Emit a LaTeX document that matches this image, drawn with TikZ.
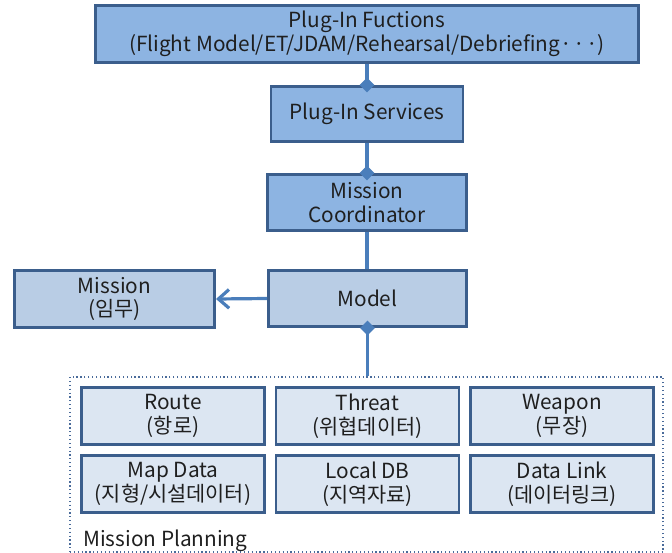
\documentclass[tikz,border=0pt]{standalone}
\usepackage{fontspec}
\setmainfont{Noto Sans CJK KR}
\usetikzlibrary{arrows.meta}
\definecolor{fillA}{HTML}{8DB4E2}
\definecolor{fillB}{HTML}{B9CDE5}
\definecolor{fillC}{HTML}{DCE6F2}
\definecolor{edgecol}{HTML}{3B5E8C}
\definecolor{conn}{HTML}{4A7EBB}
\definecolor{dotcol}{HTML}{4A6B9A}
\definecolor{txt}{HTML}{1F1F1F}
\tikzset{
  box/.style={draw=edgecol, line width=2.2pt, text=txt, align=center,
    font=\fontsize{15.6}{17.8}\selectfont, inner sep=0pt},
  boxA/.style={box, fill=fillA},
  boxB/.style={box, fill=fillB},
  boxC/.style={box, fill=fillC, minimum width=137.25pt, minimum height=42.75pt},
  link/.style={draw=conn, line width=2.4pt},
  dia/.style={-{Diamond[length=11pt,width=11pt]}, shorten >=-5.5pt},
}
\begin{document}
\begin{tikzpicture}[x=0.75pt,y=-0.75pt]
\useasboundingbox (0,0) rectangle (672,553);
\node[boxA, minimum width=407.25pt, minimum height=42.75pt] (top) at (367,34)
  {Plug-In Fuctions\\(Flight Model/ET/JDAM/Rehearsal/Debriefing·\kern1pt·\kern1pt·)};
\node[boxA, minimum width=144pt, minimum height=41.25pt] (svc) at (367,114) {Plug-In Services};
\node[boxA, minimum width=149.25pt, minimum height=42pt] (coord) at (367,202.5) {Mission\\Coordinator};
\node[boxB, minimum width=148.5pt, minimum height=42pt] (model) at (367.5,298.5) {Model};
\node[boxB, minimum width=150pt, minimum height=42.75pt] (mission) at (114.5,299) {Mission\\(임무)};
\node[draw=dotcol, line width=0.9pt, dotted, minimum width=444.75pt, minimum height=131.25pt, inner sep=0pt] (plan) at (366.5,464.5) {};
\node[boxC] (route) at (173,416) {Route\\(항로)};
\node[boxC] (threat) at (367.5,416) {Threat\\(위협데이터)};
\node[boxC] (weapon) at (562,416) {Weapon\\(무장)};
\node[boxC] (map) at (173,484) {Map Data\\(지형/시설데이터)};
\node[boxC] (local) at (367.5,484) {Local DB\\(지역자료)};
\node[boxC] (link) at (562,484) {Data Link\\(데이터링크)};
\node[anchor=base west, inner sep=0pt, text=txt, font=\fontsize{15.6}{18}\selectfont] (planlbl) at (83,546) {Mission Planning};
\draw[link, dia] (top.south) -- (top.south |- svc.north);
\draw[link, dia] (svc.south) -- (svc.south |- coord.north);
\draw[link] (coord.south) -- (coord.south |- model.north);
\draw[link, {Diamond[length=11pt,width=11pt]}-, shorten <=-5.5pt] (model.south) -- (model.south |- plan.north);
\draw[link, -{Straight Barb[length=8pt,width=14pt]}] (model.west) -- (mission.east);
\end{tikzpicture}
\end{document}
